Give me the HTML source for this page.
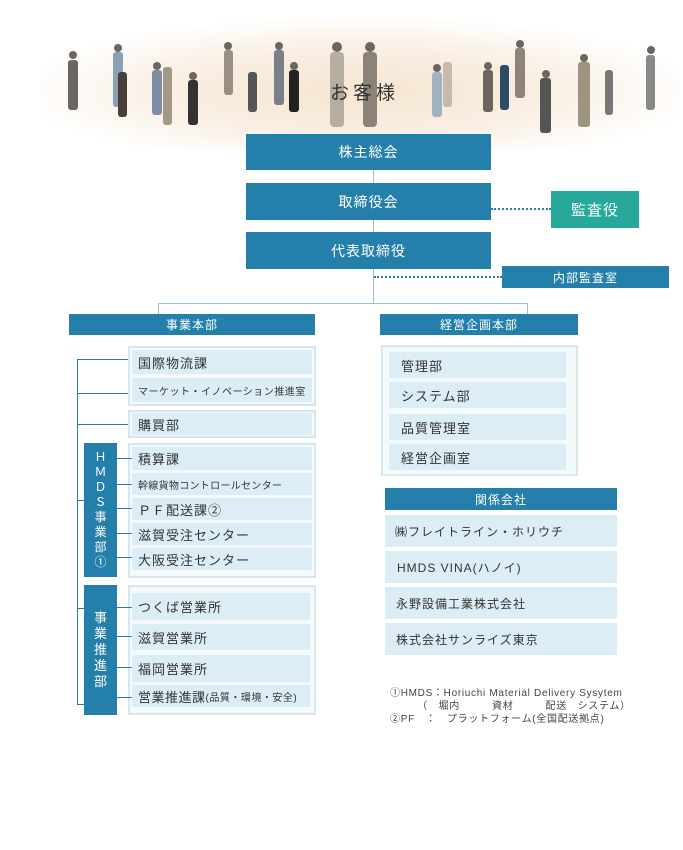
<!DOCTYPE html>
<html><head><meta charset="utf-8"><style>
*{margin:0;padding:0;box-sizing:border-box}
body{width:683px;height:850px;background:#fff;position:relative;overflow:hidden;font-family:"Liberation Sans","Noto Sans CJK JP",sans-serif}
.a{position:absolute}
.b{position:absolute;background:#2480ab;color:#fff;display:flex;align-items:center;justify-content:center;letter-spacing:1px}
.box{position:absolute;border:2px solid #d6e7ef;background:#f4f9fb}
.it{position:absolute;background:#dcedf5;color:#333;display:flex;align-items:center;padding-left:6px;font-size:12px;letter-spacing:1px}
.ln{position:absolute;background:#2480ab}
.v{position:absolute;background:#2480ab;color:#fff;font-size:12px;text-align:center;line-height:15px;display:flex;flex-direction:column;justify-content:center}
</style></head><body>
<div class="a" style="left:40px;top:20px;width:640px;height:130px;background:radial-gradient(ellipse at 50% 55%,#f6e6d2 0%,#f9eee2 40%,rgba(255,255,255,0) 75%)"></div>
<svg class="a" style="left:0;top:0" width="683" height="150">
<g fill="#6d6660">
<rect x="68" y="60" width="10" height="50" rx="3"/><circle cx="73" cy="55" r="4"/>
<rect x="113" y="52" width="10" height="55" rx="3" fill="#8aa0b5"/><circle cx="118" cy="48" r="4"/>
<rect x="118" y="72" width="9" height="45" rx="3" fill="#4a3f38"/>
<rect x="152" y="70" width="10" height="45" rx="3" fill="#7d8ea5"/><circle cx="157" cy="66" r="4"/>
<rect x="163" y="67" width="9" height="58" rx="3" fill="#a29888"/>
<rect x="188" y="80" width="10" height="45" rx="3" fill="#333"/><circle cx="193" cy="76" r="4"/>
<rect x="224" y="50" width="9" height="45" rx="3" fill="#998f85"/><circle cx="228" cy="46" r="4"/>
<rect x="248" y="72" width="9" height="40" rx="3" fill="#555"/>
<rect x="274" y="50" width="10" height="55" rx="3" fill="#7a7f88"/><circle cx="279" cy="46" r="4"/>
<rect x="289" y="70" width="10" height="42" rx="3" fill="#222"/><circle cx="294" cy="66" r="4"/>
<rect x="330" y="52" width="14" height="75" rx="4" fill="#b7aea2"/><circle cx="337" cy="47" r="5"/>
<rect x="363" y="52" width="14" height="75" rx="4" fill="#8c8378"/><circle cx="370" cy="47" r="5"/>
<rect x="432" y="72" width="10" height="45" rx="3" fill="#9fb3c0"/><circle cx="437" cy="68" r="4"/>
<rect x="443" y="62" width="9" height="45" rx="3" fill="#c9b9a8"/>
<rect x="483" y="70" width="10" height="42" rx="3" fill="#6b6660"/><circle cx="488" cy="66" r="4"/>
<rect x="500" y="65" width="9" height="45" rx="3" fill="#2e4b66"/>
<rect x="515" y="48" width="10" height="50" rx="3" fill="#8e8478"/><circle cx="520" cy="44" r="4"/>
<rect x="540" y="78" width="11" height="55" rx="3" fill="#555"/><circle cx="546" cy="74" r="4"/>
<rect x="578" y="62" width="12" height="65" rx="3" fill="#9e9280"/><circle cx="584" cy="58" r="4"/>
<rect x="605" y="70" width="8" height="45" rx="3" fill="#777"/>
<rect x="646" y="55" width="9" height="55" rx="3" fill="#888"/><circle cx="651" cy="50" r="4"/>
</g>
</svg>
<div class="a" style="left:330px;top:78px;font-size:19px;letter-spacing:4px;color:#333">お客様</div>

<div class="ln" style="left:373px;top:170px;width:1px;height:133px;background:#9cc0d1"></div>
<div class="b" style="left:246px;top:134px;width:245px;height:36px;font-size:14px">株主総会</div>
<div class="b" style="left:246px;top:183px;width:245px;height:37px;font-size:14px">取締役会</div>
<div class="b" style="left:246px;top:232px;width:245px;height:37px;font-size:14px">代表取締役</div>
<div class="a" style="left:491px;top:208px;width:60px;border-top:2px dotted #2480ab"></div>
<div class="b" style="left:551px;top:191px;width:88px;height:37px;font-size:15px;background:#26a99b">監査役</div>
<div class="a" style="left:374px;top:276px;width:128px;border-top:2px dotted #2480ab"></div>
<div class="b" style="left:502px;top:266px;width:167px;height:22px;font-size:12px">内部監査室</div>
<div class="ln" style="left:158px;top:303px;width:370px;height:1px;background:#9cc0d1"></div>
<div class="ln" style="left:158px;top:303px;width:1px;height:11px;background:#9cc0d1"></div>
<div class="ln" style="left:527px;top:303px;width:1px;height:11px;background:#9cc0d1"></div>

<div class="b" style="left:69px;top:314px;width:246px;height:21px;font-size:12px">事業本部</div>
<div class="b" style="left:380px;top:314px;width:198px;height:21px;font-size:12px">経営企画本部</div>

<div class="ln" style="left:77px;top:359px;width:1px;height:345px"></div>
<div class="ln" style="left:77px;top:359px;width:52px;height:1px"></div>
<div class="ln" style="left:77px;top:393px;width:52px;height:1px"></div>
<div class="ln" style="left:77px;top:424px;width:52px;height:1px"></div>
<div class="ln" style="left:77px;top:500px;width:8px;height:1px"></div>
<div class="ln" style="left:77px;top:608px;width:8px;height:1px"></div>
<div class="ln" style="left:77px;top:704px;width:8px;height:1px"></div>

<div class="box" style="left:128px;top:346px;width:188px;height:60px"></div>
<div class="it" style="left:132px;top:350px;width:180px;height:24px;font-size:13px">国際物流課</div>
<div class="it" style="left:132px;top:378px;width:180px;height:24px;font-size:10px;letter-spacing:0.5px">マーケット・イノベーション推進室</div>
<div class="box" style="left:128px;top:410px;width:188px;height:28px"></div>
<div class="it" style="left:132px;top:413px;width:180px;height:22px;font-size:13px">購買部</div>

<div class="box" style="left:128px;top:443px;width:188px;height:135px"></div>
<div class="it" style="left:132px;top:447px;width:180px;height:23px;font-size:13px">積算課</div>
<div class="it" style="left:132px;top:473px;width:180px;height:22px;font-size:10px;letter-spacing:0.3px">幹線貨物コントロールセンター</div>
<div class="it" style="left:132px;top:498px;width:180px;height:22px;font-size:13px">ＰＦ配送課②</div>
<div class="it" style="left:132px;top:523px;width:180px;height:22px;font-size:13px">滋賀受注センター</div>
<div class="it" style="left:132px;top:548px;width:180px;height:22px;font-size:13px">大阪受注センター</div>
<div class="v" style="left:84px;top:443px;width:33px;height:134px">Ｈ<br>Ｍ<br>Ｄ<br>Ｓ<br>事<br>業<br>部<br>①</div>
<div class="ln" style="left:117px;top:458px;width:15px;height:1px"></div>
<div class="ln" style="left:117px;top:484px;width:15px;height:1px"></div>
<div class="ln" style="left:117px;top:508px;width:15px;height:1px"></div>
<div class="ln" style="left:117px;top:533px;width:15px;height:1px"></div>
<div class="ln" style="left:117px;top:557px;width:15px;height:1px"></div>

<div class="box" style="left:128px;top:585px;width:188px;height:130px"></div>
<div class="it" style="left:132px;top:593px;width:178px;height:27px;font-size:13px">つくば営業所</div>
<div class="it" style="left:132px;top:624px;width:178px;height:26px;font-size:13px">滋賀営業所</div>
<div class="it" style="left:132px;top:655px;width:178px;height:27px;font-size:13px">福岡営業所</div>
<div class="it" style="left:132px;top:685px;width:178px;height:22px;font-size:13px;letter-spacing:0.5px">営業推進課<span style="font-size:10px">(品質・環境・安全)</span></div>
<div class="v" style="left:84px;top:585px;width:33px;height:130px;font-size:13px;line-height:16px">事<br>業<br>推<br>進<br>部</div>
<div class="ln" style="left:117px;top:607px;width:15px;height:1px"></div>
<div class="ln" style="left:117px;top:636px;width:15px;height:1px"></div>
<div class="ln" style="left:117px;top:667px;width:15px;height:1px"></div>
<div class="ln" style="left:117px;top:697px;width:15px;height:1px"></div>

<div class="box" style="left:381px;top:345px;width:197px;height:131px"></div>
<div class="it" style="left:389px;top:352px;width:177px;height:26px;font-size:13px;padding-left:12px">管理部</div>
<div class="it" style="left:389px;top:382px;width:177px;height:26px;font-size:13px;padding-left:12px">システム部</div>
<div class="it" style="left:389px;top:414px;width:177px;height:26px;font-size:13px;padding-left:12px">品質管理室</div>
<div class="it" style="left:389px;top:444px;width:177px;height:26px;font-size:13px;padding-left:12px">経営企画室</div>

<div class="b" style="left:385px;top:488px;width:232px;height:22px;font-size:12px">関係会社</div>
<div class="it" style="left:385px;top:515px;width:232px;height:32px;font-size:12px;padding-left:10px">㈱フレイトライン・ホリウチ</div>
<div class="it" style="left:385px;top:551px;width:232px;height:32px;font-size:12px;padding-left:12px">HMDS VINA(ハノイ)</div>
<div class="it" style="left:385px;top:587px;width:232px;height:32px;font-size:12px;padding-left:11px">永野設備工業株式会社</div>
<div class="it" style="left:385px;top:623px;width:232px;height:32px;font-size:12px;padding-left:11px">株式会社サンライズ東京</div>

<div class="a" style="left:390px;top:687px;font-size:10px;color:#444;line-height:13px;white-space:pre;letter-spacing:0.7px">①HMDS：Horiuchi Material Delivery Sysytem
　　　（　堀内　　　資材　　　配送　システム）
②PF　：　プラットフォーム(全国配送拠点)</div>
</body></html>
